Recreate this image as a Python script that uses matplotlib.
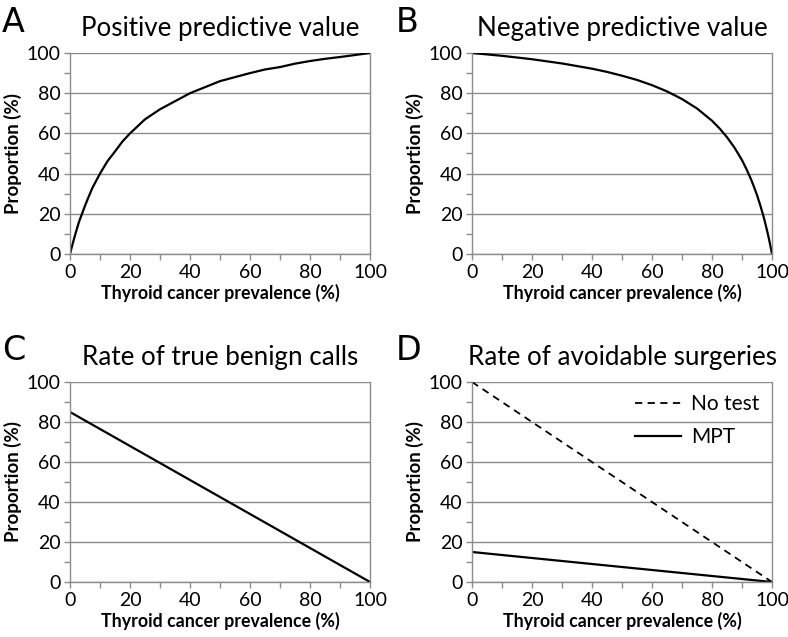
import numpy as np
import matplotlib.pyplot as plt
from matplotlib.ticker import MultipleLocator

plt.rcParams['font.family'] = ['Lato', 'DejaVu Sans']

# prevalence values (%)
prev_ppv = [0, 0.5, 1, 1.5, 2, 3, 4, 5, 6, 7.5, 9, 10, 12.5, 15, 17.5, 20, 22.5, 25,
            27.5, 30, 35, 40, 45, 50, 55, 60, 65, 70, 75, 80, 85, 90, 95, 100]
ppv = [0, 2.9, 5.7, 8.4, 11, 16, 20, 24, 27.7, 33, 37.2, 40, 46.2, 51, 56, 60, 63.5, 67,
       69.5, 72, 76, 80, 83, 86, 88, 90, 91.8, 93, 94.7, 96, 97.1, 98, 99, 100]

prev_npv = [0, 10, 20, 30, 40, 45, 50, 55, 60, 65, 70, 75, 80, 82.5, 85, 87.5, 90, 91.5,
            93, 94, 95, 96, 97, 97.5, 98, 98.5, 99, 99.5, 100]
npv = [100, 98.6, 96.9, 94.8, 92.2, 90.6, 88.7, 86.6, 84, 80.9, 77.1, 72.4, 66.3, 62.5,
       58.1, 52.9, 46.7, 42.2, 37.2, 33.4, 29.3, 24.7, 19.6, 16.8, 13.8, 10.7, 7.4, 3.8, 0]

prev_line = [0, 100]
benign = [85, 0]
no_test = [100, 0]
mpt = [15, 0]

titles = ['Positive predictive value', 'Negative predictive value',
          'Rate of true benign calls', 'Rate of avoidable surgeries']
letters = ['A', 'B', 'C', 'D']

fig = plt.figure(figsize=(7.88, 6.37), dpi=100)
W, H = 788, 637
boxes = [(70, 53, 370, 254), (472, 53, 772, 254),
         (70, 382, 370, 582), (472, 382, 772, 582)]
axes = []
for (l, t, r, b) in boxes:
    ax = fig.add_axes([l / W, 1 - b / H, (r - l) / W, (b - t) / H])
    axes.append(ax)

axes[0].plot(prev_ppv, ppv, color='black', lw=1.6)
axes[1].plot(prev_npv, npv, color='black', lw=1.6)
axes[2].plot(prev_line, benign, color='black', lw=1.6)
axes[3].plot(prev_line, no_test, color='black', lw=1.3, ls=(0, (4, 3)), label='No test')
axes[3].plot(prev_line, mpt, color='black', lw=1.6, label='MPT')
axes[3].legend(loc='upper right', frameon=False, fontsize=15,
               handlelength=2.2, handletextpad=0.5, labelspacing=0.6,
               borderaxespad=0.2)

grey = '#8c8c8c'
for i, ax in enumerate(axes):
    ax.set_xlim(0, 100)
    ax.set_ylim(0, 100)
    ax.xaxis.set_major_locator(MultipleLocator(20))
    ax.xaxis.set_minor_locator(MultipleLocator(10))
    ax.yaxis.set_major_locator(MultipleLocator(20))
    ax.yaxis.set_minor_locator(MultipleLocator(10))
    ax.grid(axis='y', which='major', color=grey, lw=1)
    ax.set_axisbelow(True)
    for s in ['left', 'bottom', 'right']:
        ax.spines[s].set_color(grey)
        ax.spines[s].set_linewidth(1)
    ax.spines['top'].set_visible(False)
    ax.tick_params(which='both', direction='out', color=grey, length=4, width=1)
    ax.tick_params(which='major', labelsize=14, pad=3)
    ax.set_xlabel('Thyroid cancer prevalence (%)', fontsize=12.8, fontweight='bold', labelpad=2)
    ax.set_ylabel('Proportion (%)', fontsize=13.5, fontweight='bold', labelpad=3)
    ax.set_title(titles[i], fontsize=18.7, pad=12)
    l, t, r, b = boxes[i]
    lx = 2 if i % 2 == 0 else 396
    fig.text(lx / W, 1 - (t - 31) / H, letters[i], fontsize=24, family='DejaVu Sans',
             ha='left', va='center')

fig.savefig('out.png', dpi=100)
